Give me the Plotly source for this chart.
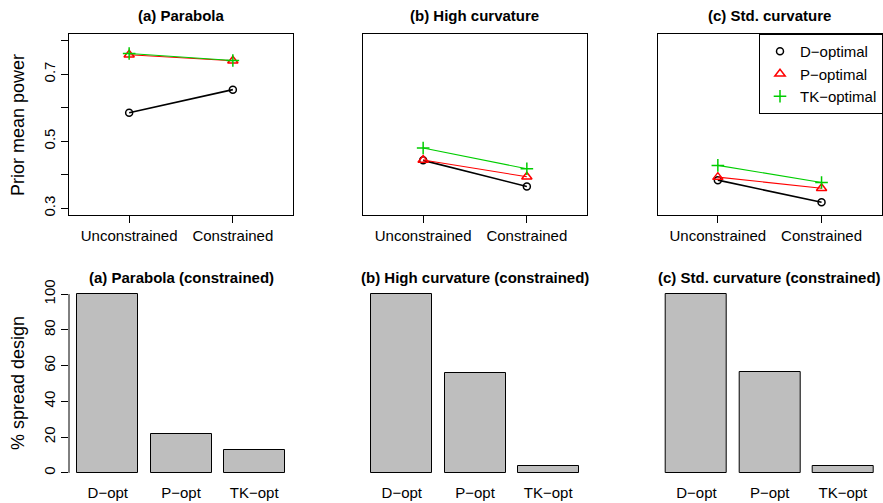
import plotly.graph_objects as go

# ---------------- data ----------------
conditions = ["Unconstrained", "Constrained"]
designs = ["D\u2212optimal", "P\u2212optimal", "TK\u2212optimal"]
bar_labels = ["D\u2212opt", "P\u2212opt", "TK\u2212opt"]

panel_titles_top = ["(a) Parabola", "(b) High curvature", "(c) Std. curvature"]
panel_titles_bot = ["(a) Parabola (constrained)", "(b) High curvature (constrained)",
                    "(c) Std. curvature (constrained)"]

parabola_D = [0.585, 0.654]
parabola_P = [0.758, 0.740]
parabola_TK = [0.762, 0.741]

highcurv_D = [0.443, 0.365]
highcurv_P = [0.444, 0.394]
highcurv_TK = [0.480, 0.418]

stdcurv_D = [0.384, 0.318]
stdcurv_P = [0.393, 0.360]
stdcurv_TK = [0.428, 0.377]

spread_parabola = [100, 22, 13]
spread_highcurv = [100, 55.6, 4]
spread_stdcurv = [100, 56.5, 4]

power_ticks = [0.3, 0.4, 0.5, 0.6, 0.7, 0.8]
power_ticktext = ["0.3", "", "0.5", "", "0.7", ""]
spread_ticks = [0, 20, 40, 60, 80, 100]

# ---------------- layout helpers ----------------
W, H = 883, 503
FONT = "Liberation Sans, Arial, Helvetica, sans-serif"
colors = ["black", "#FF0000", "#00CD00"]
symbols = ["circle-open", "triangle-up-open", "cross-thin-open"]
msizes = [7, 9, 9]
lwidths = [1.6, 1.1, 1.1]

xl = [69, 363, 657.7]
pw = 224
top_y = (34, 215)
bot_y = (287, 480)


def dom_x(i):
    return [xl[i] / W, (xl[i] + pw) / W]


def dom_y(t):
    return [1 - t[1] / H, 1 - t[0] / H]


fig = go.Figure()

top_data = [
    (parabola_D, parabola_P, parabola_TK),
    (highcurv_D, highcurv_P, highcurv_TK),
    (stdcurv_D, stdcurv_P, stdcurv_TK),
]
bot_data = [spread_parabola, spread_highcurv, spread_stdcurv]

xpos = [i + 1 for i in range(len(conditions))]
bar_x = [0.2 + 1.2 * i + 0.5 for i in range(len(bar_labels))]

for p in range(3):
    ax = "" if p == 0 else str(p + 1)
    for k in range(3):
        fig.add_trace(go.Scatter(
            x=xpos, y=top_data[p][k], mode="lines+markers",
            line=dict(color=colors[k], width=lwidths[k]),
            marker=dict(symbol=symbols[k], size=msizes[k], color=colors[k],
                        line=dict(color=colors[k], width=1.5)),
            showlegend=False, xaxis="x" + ax, yaxis="y" + ax,
        ))
    bx = str(p + 4)
    fig.add_trace(go.Bar(
        x=bar_x, y=bot_data[p], width=1,
        marker=dict(color="#BEBEBE", line=dict(color="black", width=1)),
        showlegend=False, xaxis="x" + bx, yaxis="y" + bx,
    ))

# legend-only traces
for k in range(3):
    fig.add_trace(go.Scatter(
        x=[None], y=[None], mode="markers", name=designs[k],
        marker=dict(symbol=symbols[k], size=msizes[k], color=colors[k],
                    line=dict(color=colors[k], width=1.5)),
        xaxis="x3", yaxis="y3", showlegend=True,
    ))

layout = dict(
    width=W, height=H, margin=dict(l=0, r=0, t=0, b=0, autoexpand=False),
    paper_bgcolor="white", plot_bgcolor="white",
    font=dict(family=FONT, size=15, color="black"),
    bargap=0,
    legend=dict(x=1, xanchor="right", y=1 - 34 / H, yanchor="top",
                bordercolor="black", borderwidth=1, bgcolor="white",
                font=dict(size=15), itemwidth=30, tracegroupgap=0),
)

for p in range(3):
    ax = "" if p == 0 else str(p + 1)
    layout["xaxis" + ax] = dict(
        domain=dom_x(p), anchor="y" + ax, range=[0.42, 2.58],
        tickvals=xpos, ticktext=conditions, ticks="outside", ticklen=7,
        tickcolor="black", showline=True, linecolor="black", linewidth=1,
        mirror=True, showgrid=False, zeroline=False, automargin=False,
        tickfont=dict(size=15), fixedrange=True,
    )
    layout["yaxis" + ax] = dict(
        domain=dom_y(top_y), anchor="x" + ax, range=[0.28, 0.82],
        tickvals=power_ticks if p == 0 else [],
        ticktext=power_ticktext if p == 0 else [],
        ticks="outside" if p == 0 else "", ticklen=7, tickcolor="black",
        tickangle=-90, showticklabels=(p == 0), automargin=False,
        showline=True, linecolor="black", linewidth=1, mirror=True,
        showgrid=False, zeroline=False, tickfont=dict(size=15),
    )
    bx = str(p + 4)
    layout["xaxis" + bx] = dict(
        domain=dom_x(p), anchor="y" + bx, range=[0.064, 3.736],
        tickvals=bar_x, ticktext=bar_labels, ticks="", showline=False,
        showgrid=False, zeroline=False, tickfont=dict(size=15),
        ticklabelstandoff=2, automargin=False,
    )
    layout["yaxis" + bx] = dict(
        domain=dom_y(bot_y), anchor="x" + bx, range=[-4, 104],
        tickvals=spread_ticks if p == 0 else [],
        ticks="outside" if p == 0 else "", ticklen=7, tickcolor="black",
        tickangle=-90, showticklabels=(p == 0), automargin=False,
        showline=False, showgrid=False, zeroline=False,
        tickfont=dict(size=15),
    )

fig.update_layout(**layout)

# y-axis line for bottom-left barplot (0 to 100 only)
fig.add_shape(type="line", xref="x4 domain", yref="y4",
              x0=0, x1=0, y0=spread_ticks[0], y1=spread_ticks[-1],
              line=dict(color="black", width=1))

# titles
for p in range(3):
    cx = (xl[p] + pw / 2) / W
    fig.add_annotation(text="<b>" + panel_titles_top[p] + "</b>", x=cx, y=1 - 15 / H,
                       xref="paper", yref="paper", showarrow=False,
                       font=dict(size=15), xanchor="center", yanchor="middle")
    fig.add_annotation(text="<b>" + panel_titles_bot[p] + "</b>", x=cx, y=1 - 277 / H,
                       xref="paper", yref="paper", showarrow=False,
                       font=dict(size=15), xanchor="center", yanchor="middle")

fig.add_annotation(text="Prior mean power", x=18 / W, y=1 - 125 / H,
                   xref="paper", yref="paper", showarrow=False, textangle=-90,
                   font=dict(size=18), xanchor="center", yanchor="middle")
fig.add_annotation(text="% spread design", x=18 / W, y=1 - 383 / H,
                   xref="paper", yref="paper", showarrow=False, textangle=-90,
                   font=dict(size=18), xanchor="center", yanchor="middle")

fig.write_html("out.html")
